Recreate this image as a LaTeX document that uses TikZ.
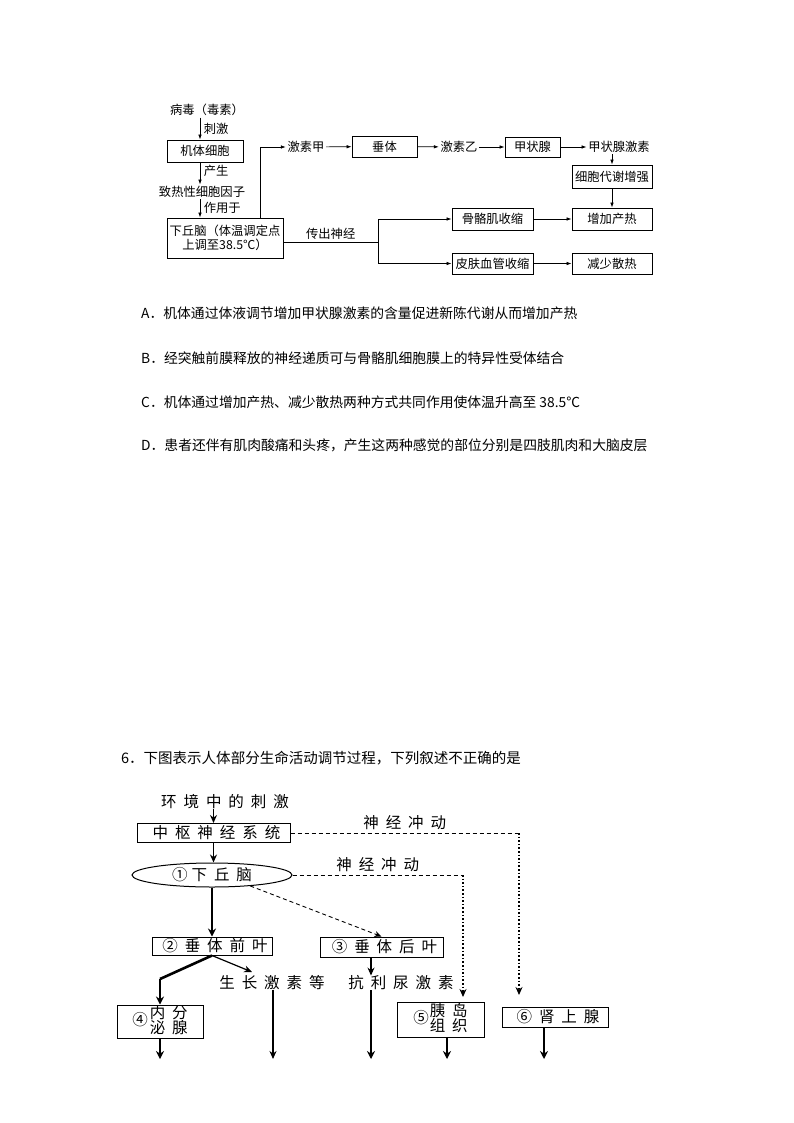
\documentclass[tikz,border=0pt]{standalone}
\usepackage{fontspec}
\setmainfont{Noto Sans CJK SC}
\newfontfamily\widecjk[LetterSpace=45]{Noto Sans CJK SC}
\usetikzlibrary{arrows.meta,shapes.geometric}

\begin{document}
\begin{tikzpicture}[x=1pt,y=-1pt,
    box/.style={rectangle, draw, line width=0.8pt, inner sep=0pt, align=center, font=\fontsize{12.3}{14}\selectfont},
    lbl/.style={inner sep=1.5pt, align=center, font=\fontsize{12.3}{14}\selectfont},
    arr/.style={-{Latex[length=5pt,width=3.5pt]}, line width=0.7pt},
    optline/.style={anchor=west, inner sep=0pt, font=\fontsize{13.8}{16}\selectfont},
    gbox/.style={rectangle, draw, line width=1pt, inner sep=0pt, align=center, font=\fontsize{15.5}{16}\widecjk},
    glbl/.style={inner sep=0pt, font=\fontsize{15.5}{16}\widecjk},
    garr/.style={-{Stealth[length=8pt,width=7pt]}, line width=1.2pt},
    thkarr/.style={-{Stealth[length=8pt,width=8pt]}, line width=2.6pt},
    dashln/.style={dash pattern=on 4pt off 3pt, line width=0.9pt},
    dotln/.style={dotted, line width=1.6pt}]

  \fill[white] (0,0) rectangle (794,1123);

  % fever regulation
  \node[lbl] (virus) at (207,110) {病毒（毒素）};
  \node[box, minimum width=76pt, minimum height=22pt] (cell) at (205,151) {机体细胞};
  \node[lbl] (factor) at (202,192) {致热性细胞因子};
  \node[box, minimum width=116pt, minimum height=40pt] (hypo) at (225,238) {下丘脑（体温调定点\\上调至38.5℃）};
  \node[lbl] (hA) at (306,147) {激素甲};
  \node[box, minimum width=65pt, minimum height=21pt] (pit) at (384.5,146.5) {垂体};
  \node[lbl] (hB) at (459,147) {激素乙};
  \node[box, minimum width=55pt, minimum height=20pt] (thy) at (532.5,147) {甲状腺};
  \node[lbl] (thyH) at (619,147) {甲状腺激素};
  \node[box, minimum width=80pt, minimum height=23pt] (met) at (612,176.5) {细胞代谢增强};
  \node[box, minimum width=80pt, minimum height=22pt] (heat) at (612,219) {增加产热};
  \node[box, minimum width=81pt, minimum height=22pt] (musc) at (492.5,219) {骨骼肌收缩};
  \node[box, minimum width=81pt, minimum height=21pt] (skin) at (492.5,263.5) {皮肤血管收缩};
  \node[box, minimum width=80pt, minimum height=21pt] (less) at (612,263.5) {减少散热};

  \coordinate (ax) at (200,0);
  \coordinate (up) at (260,0);
  \coordinate (br) at (378,242);

  \draw[arr] (virus.south -| ax) -- node[lbl, right=2pt] {刺激} (cell.north -| ax);
  \draw[arr] (cell.south -| ax) -- node[lbl, right=2pt, pos=0.4] {产生} (factor.north -| ax);
  \draw[arr] (factor.south -| ax) -- node[lbl, right=2pt, pos=0.45] {作用于} (hypo.north -| ax);
  \draw[arr] (hypo.north -| up) |- (hA.west);
  \draw[arr] (hA) -- (pit);
  \draw[arr] (pit) -- (hB);
  \draw[arr] (hB) -- (thy);
  \draw[arr] (thy) -- (thyH);
  \draw[arr] (thyH.south -| met.north) -- (met);
  \draw[arr] (met) -- (heat);
  \draw[arr] (musc) -- (heat);
  \draw[arr] (skin) -- (less);
  \draw[line width=0.7pt] (hypo.east |- br) -- node[lbl, above=1pt] {传出神经} (br);
  \draw[arr] (br) |- (musc.west);
  \draw[arr] (br) |- (skin.west);

  % options
  \node[optline] (optA) at (141,313) {A．机体通过体液调节增加甲状腺激素的含量促进新陈代谢从而增加产热};
  \node[optline] (optB) at (141,358) {B．经突触前膜释放的神经递质可与骨骼肌细胞膜上的特异性受体结合};
  \node[optline] (optC) at (141,402) {C．机体通过增加产热、减少散热两种方式共同作用使体温升高至 38.5℃};
  \node[optline] (optD) at (141,445) {D．患者还伴有肌肉酸痛和头疼，产生这两种感觉的部位分别是四肢肌肉和大脑皮层};

  % question 6
  \node[anchor=west, inner sep=0pt, font=\fontsize{14.5}{16}\selectfont] (q6) at (121,758) {6．下图表示人体部分生命活动调节过程，下列叙述不正确的是};

  \node[glbl] (env) at (225,802) {环境中的刺激};
  \node[gbox, minimum width=153pt, minimum height=19pt] (cns) at (213.5,833) {中枢神经系统\hspace{-6pt}};
  \node[gbox, ellipse, minimum width=160pt, minimum height=24pt] (hyp) at (212,875) {①\hspace{4pt}下丘脑};
  \node[gbox, minimum width=120pt, minimum height=18pt] (ant) at (212,946) {②垂体前叶\hspace{-6pt}};
  \node[gbox, minimum width=123pt, minimum height=20pt] (pos) at (381.5,947) {③垂体后叶\hspace{-6pt}};
  \node[glbl] (gh) at (272,983) {生长激素等};
  \node[glbl] (adh) at (401,983) {抗利尿激素};
  \node[gbox, minimum width=86pt, minimum height=33pt] (endo) at (160,1021.5)
    {④\hspace{2pt}\begin{tabular}{@{}c@{}}内分\\[-3pt]泌腺\end{tabular}};
  \node[gbox, minimum width=87pt, minimum height=35pt] (islet) at (440.5,1019.5)
    {⑤\hspace{1pt}\begin{tabular}{@{}c@{}}胰岛\\[-3pt]组织\end{tabular}};
  \node[gbox, minimum width=106pt, minimum height=20pt] (adr) at (555,1017) {⑥肾上腺\hspace{-6pt}};

  \coordinate (kink) at (160,979);
  \coordinate (ghin) at (252,972);
  \coordinate (c5) at (463,997);
  \coordinate (c6) at (519,995);
  \coordinate (e1) at (160,1059);
  \coordinate (e2) at (273,1059);
  \coordinate (e3) at (371,1059);
  \coordinate (e4) at (447,1059);
  \coordinate (e5) at (544,1059);

  \draw[garr] (env.south -| cns.north) -- (cns.north);
  \draw[garr] (cns.south) -- (cns.south |- hyp.north);
  \draw[thkarr] (hyp.south) -- (ant.north);
  \draw[dashln] (cns.east) -- node[glbl, above=3pt] {神经冲动} (cns.east -| c6);
  \draw[dotln, -{Stealth[length=8pt,width=7pt]}] (cns.east -| c6) -- (c6);
  \draw[dashln] (hyp.east) -- node[glbl, above=3pt, pos=0.5] {神经冲动} (hyp.east -| c5);
  \draw[dotln, -{Stealth[length=8pt,width=7pt]}] (hyp.east -| c5) -- (c5);
  \draw[dashln, -{Stealth[length=7pt,width=6pt]}] (hyp.-16) -- (pos.north);
  \draw[line width=2.6pt] (ant.south) -- (kink);
  \draw[thkarr] (kink) -- (endo.north -| kink);
  \draw[garr] (ant.south) -- (ghin);
  \draw[garr] (gh.south -| e2) -- (e2);
  \draw[garr] (pos.south -| e3) -- (adh.north -| e3);
  \draw[thkarr] (adh.south -| e3) -- (e3);
  \draw[thkarr] (endo.south -| e1) -- (e1);
  \draw[thkarr] (islet.south -| e4) -- (e4);
  \draw[thkarr] (adr.south -| e5) -- (e5);
\end{tikzpicture}
\end{document}
